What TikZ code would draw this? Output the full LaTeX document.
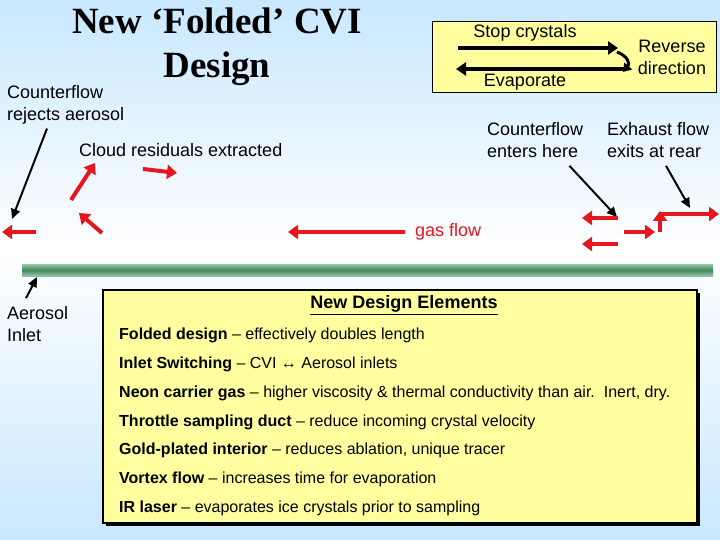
\documentclass[tikz,border=0pt]{standalone}
\usepackage{fontspec}
\setmainfont{Liberation Sans}
\newfontfamily\titlefont{Liberation Serif}
\usetikzlibrary{arrows.meta,calc,positioning}
\definecolor{FlowRed}{RGB}{230,22,30}
\definecolor{SkyBlue}{RGB}{200,232,255}
\definecolor{NoteYellow}{RGB}{255,255,160}
\definecolor{PipeGreen}{RGB}{70,135,95}
\definecolor{PipeLight}{RGB}{150,198,168}

\begin{document}
\begin{tikzpicture}[x=1pt,y=-1pt,
  flow/.style={FlowRed,line width=4pt,-{Triangle[length=10pt,width=14pt]}},
  pointer/.style={black,line width=2pt,-{Triangle[length=10pt,width=9pt]}},
  bigarrow/.style={black,line width=4pt,-{Triangle[length=10pt,width=13pt]}},
  txt/.style={font=\fontsize{18}{22}\selectfont,align=left,inner sep=0pt},
  item/.style={font=\fontsize{16}{19}\selectfont,anchor=west,inner sep=0pt}]
\useasboundingbox (0,0) rectangle (720,540);
% background
\shade[top color=SkyBlue,bottom color=white] (0,0) rectangle (720,250);
\shade[top color=white,bottom color=SkyBlue] (0,250) rectangle (720,540);
% title
\node[font=\titlefont\bfseries\fontsize{37}{44}\selectfont,align=center,inner sep=0pt] (title) at (217,47) {New ‘Folded’ CVI\\Design};
% reverse direction box
\node[draw,fill=NoteYellow,minimum width=284pt,minimum height=71pt,inner sep=0pt] (revbox) at (574,56.5) {};
\node[txt] (stop) at (525,33) {Stop crystals};
\node[txt] (evap) at (525,82) {Evaporate};
\node[txt,align=center] (rev) at (672,57) {Reverse\\direction};
\coordinate (s0) at (458,48);\coordinate (s1) at (618,48);\coordinate (e0) at (624,69);\coordinate (e1) at (456,69);
\draw[bigarrow] (s0) -- (s1);
\draw[bigarrow] (e0) -- (e1);
\draw[black,line width=3pt,-{Triangle[length=8pt,width=10pt]}] (617,52) .. controls (628,56) and (630,64) .. (623,72);
% labels
\node[txt,anchor=west] (rej) at (7,105) {Counterflow\\rejects aerosol};
\node[txt,anchor=west] (cloud) at (79,150) {Cloud residuals extracted};
\node[txt,anchor=west] (enter) at (487,140) {Counterflow\\enters here};
\node[txt,anchor=west] (exh) at (607,140) {Exhaust flow\\exits at rear};
\node[txt,anchor=west] (inlet) at (7,324) {Aerosol\\Inlet};
\node[txt,anchor=west,text=FlowRed] (gas) at (415,232) {gas flow};
% pointers
\coordinate (rejTip) at (12,219);\coordinate (inTip) at (37,277);\coordinate (entTip) at (617,217);\coordinate (exhTip) at (690,208);
\draw[pointer] ($(rej.south west)+(40,4)$) -- (rejTip);
\draw[pointer] ($(inlet.north west)+(19,-8)$) -- (inTip);
\draw[pointer] ($(enter.south east)+(-14,8)$) -- (entTip);
\draw[pointer] ($(exh.south west)+(59,8)$) -- (exhTip);
% pipe
\shade[top color=PipeLight,bottom color=PipeLight,middle color=PipeGreen] (22,264) rectangle (713,276);
% gas flow arrows
\draw[flow] (36,232) -- (2,232);
\draw[flow] (71,200) -- (95,163);
\draw[flow] (102,233) -- (79,213);
\draw[flow] (143,169) -- (177,173);
\draw[flow] (gas.west) ++(-10,0) -- (288,232);
\draw[flow] (618,218) -- (582,218);
\draw[flow] (618,244) -- (582,244);
\draw[flow] (624,232) -- (655,232);
\draw[flow] (660,232) -- (660,211);
\draw[flow] (660,214) -- (719,214);
% design elements
\fill[black] (106,293) rectangle (700,526);
\node[draw,line width=2.5pt,fill=NoteYellow,minimum width=594pt,minimum height=233pt,inner sep=0pt] (elems) at (400,406.5) {};
\node[font=\fontsize{18}{21}\selectfont\bfseries,inner sep=0pt] (head) at (404,305) {\underline{New Design Elements}};
\node[item] (i1) at (119,335) {\textbf{Folded design} -- effectively doubles length};
\node[item] (i2) at (119,364) {\textbf{Inlet Switching} -- CVI ↔ Aerosol inlets};
\node[item] (i3) at (119,393) {\textbf{Neon carrier gas} -- higher viscosity \& thermal conductivity than air.\ \ Inert, dry.};
\node[item] (i4) at (119,422) {\textbf{Throttle sampling duct} -- reduce incoming crystal velocity};
\node[item] (i5) at (119,450) {\textbf{Gold-plated interior} -- reduces ablation, unique tracer};
\node[item] (i6) at (119,479) {\textbf{Vortex flow} -- increases time for evaporation};
\node[item] (i7) at (119,508) {\textbf{IR laser} -- evaporates ice crystals prior to sampling};
\end{tikzpicture}
\end{document}
